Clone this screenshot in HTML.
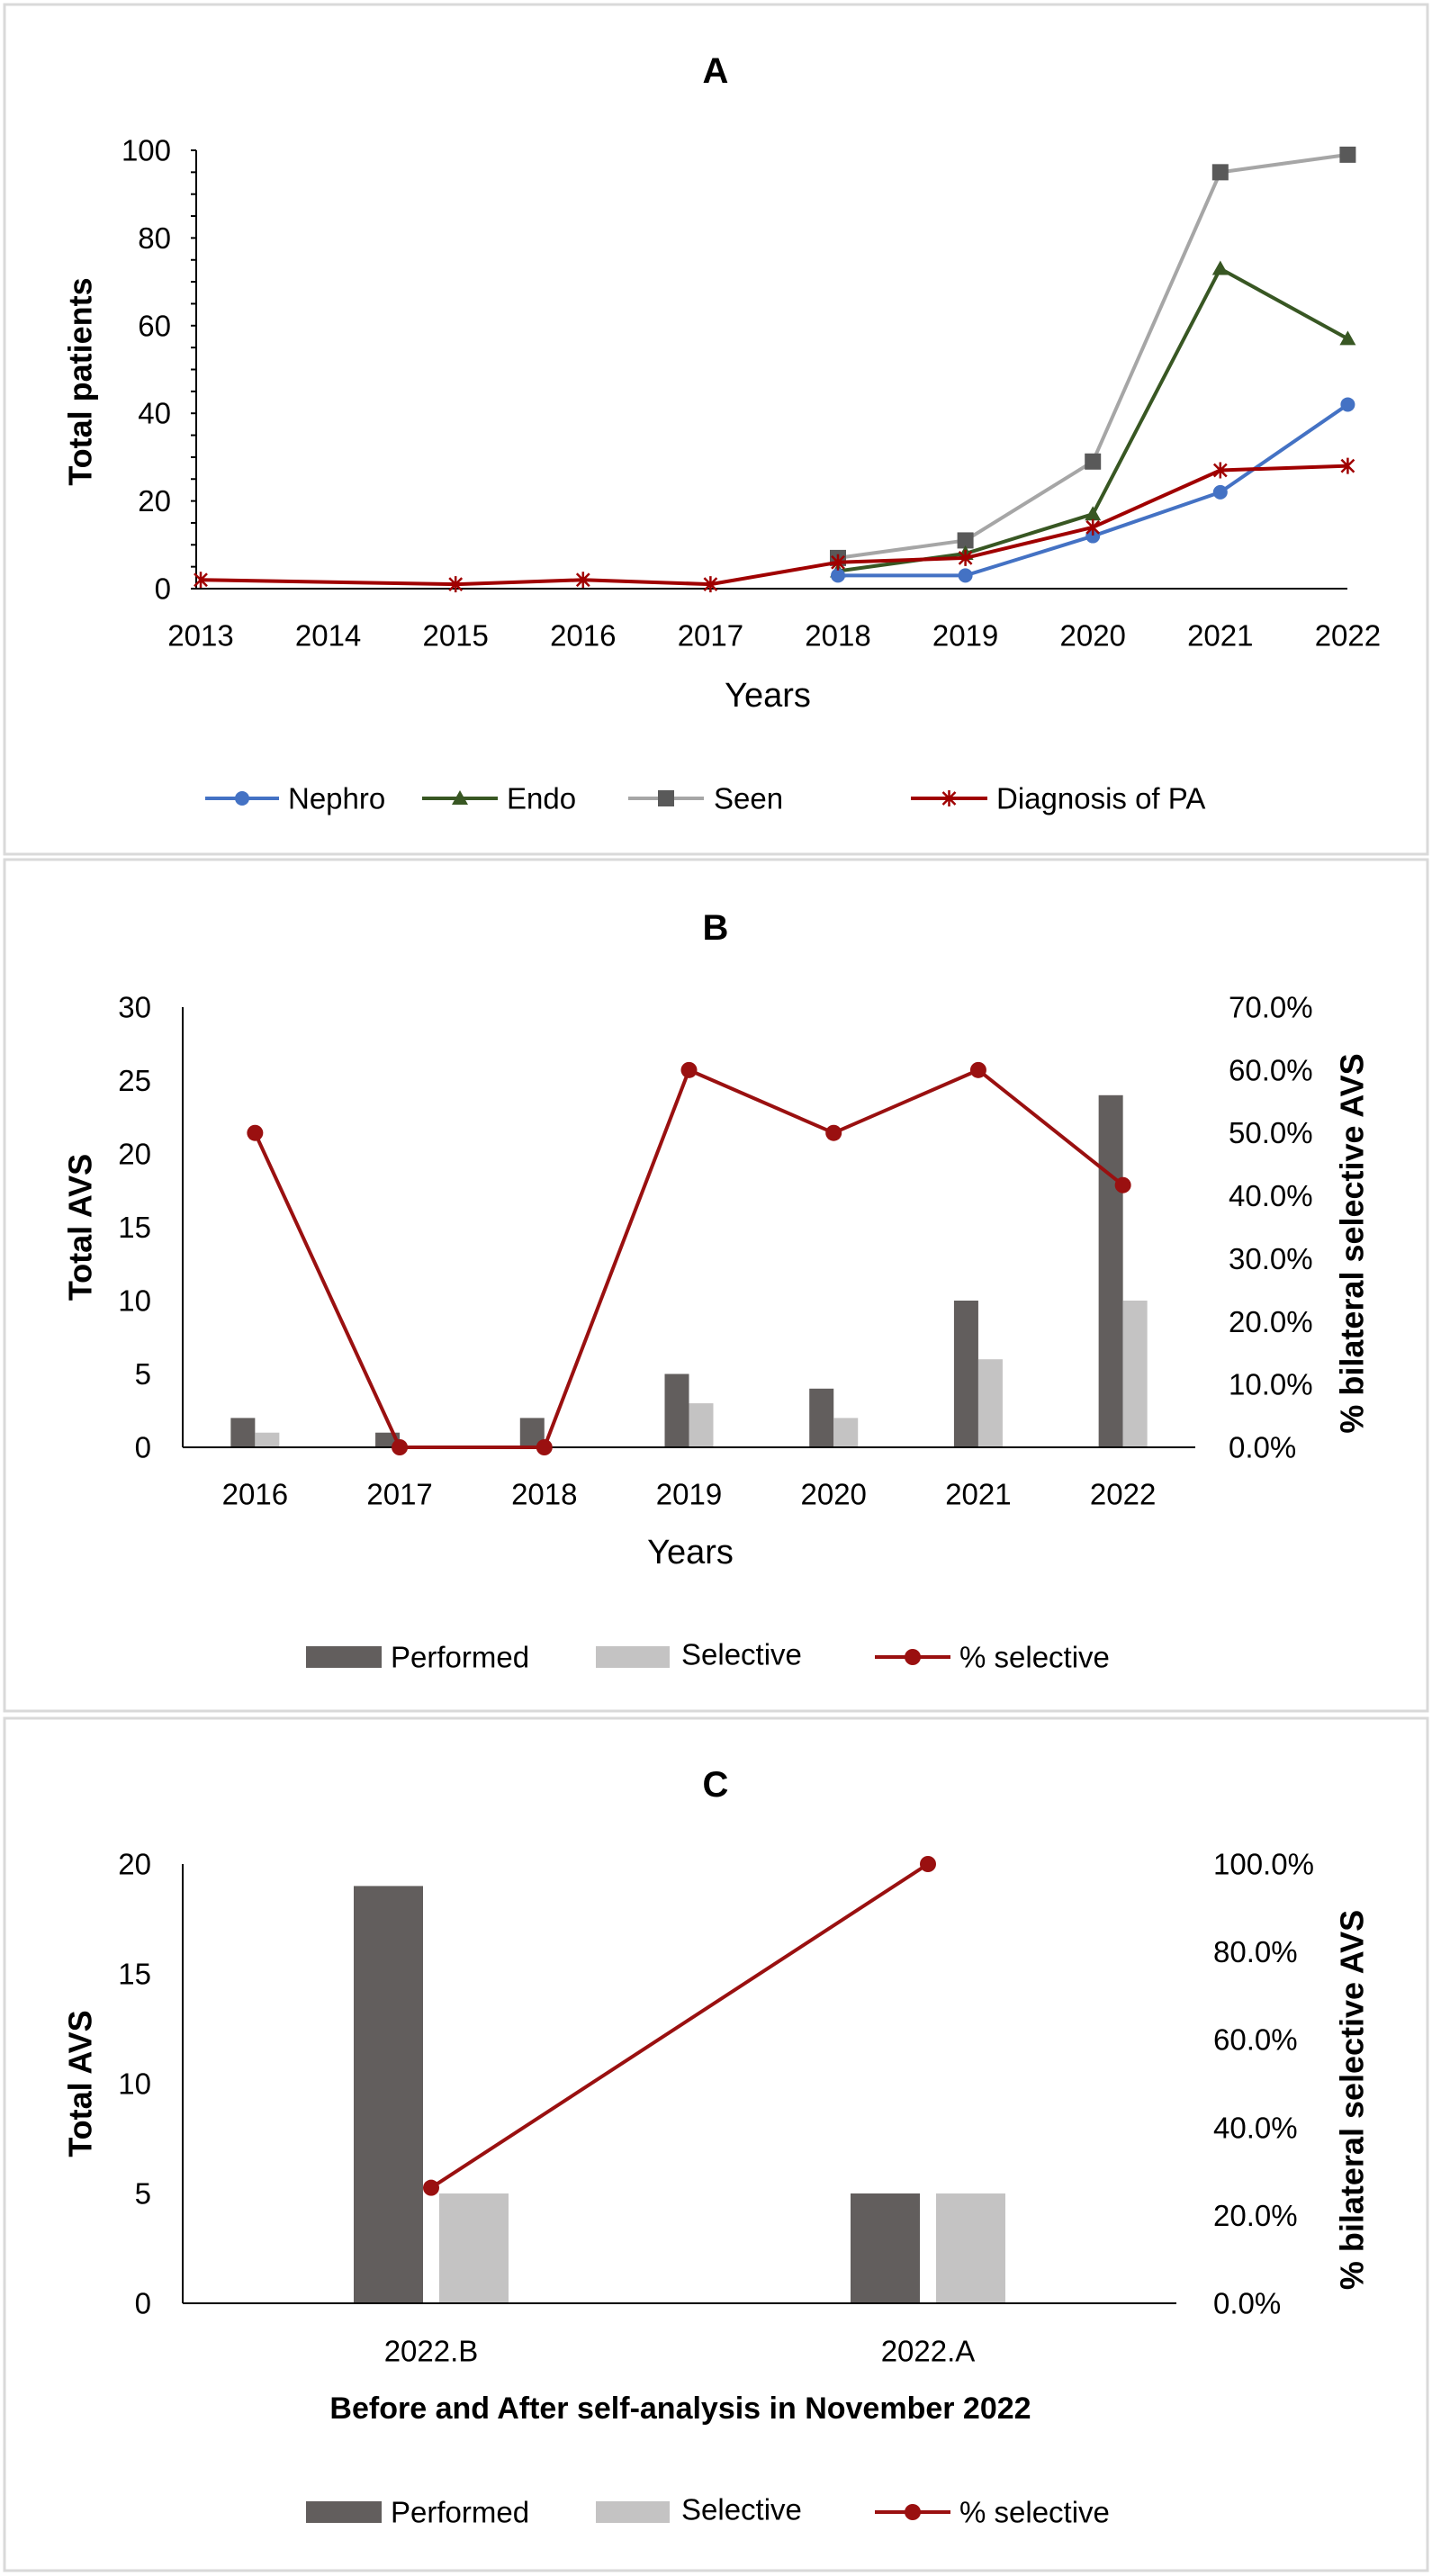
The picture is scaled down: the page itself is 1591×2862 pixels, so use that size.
<!DOCTYPE html>
<html><head><meta charset="utf-8"><style>
html,body{margin:0;padding:0;background:#fff}
svg{display:block;font-family:"Liberation Sans",sans-serif}
</style></head><body>
<svg id="s" width="1591" height="2862" viewBox="0 0 1591 2862" xmlns="http://www.w3.org/2000/svg">
<rect x="5" y="5" width="1581" height="944" fill="#fff" stroke="#d9d9d9" stroke-width="3"/>
<rect x="5" y="955" width="1581" height="946" fill="#fff" stroke="#d9d9d9" stroke-width="3"/>
<rect x="5" y="1909" width="1581" height="947" fill="#fff" stroke="#d9d9d9" stroke-width="3"/>
</svg>
<script>
// Panel A data
const yearsA=[2013,2014,2015,2016,2017,2018,2019,2020,2021,2022];
const nephro=[null,null,null,null,null,3,3,12,22,42];
const endo=[null,null,null,null,null,4,8,17,73,57];
const seen=[null,null,null,null,null,7,11,29,95,99];
const diagPA=[2,null,1,2,1,6,7,14,27,28];
const ticksA=[0,20,40,60,80,100];
// Panel B data
const yearsB=[2016,2017,2018,2019,2020,2021,2022];
const performedB=[2,1,2,5,4,10,24];
const selectiveB=[1,0,0,3,2,6,10];
const pctB=[50,0,0,60,50,60,41.7];
const ticksB=[0,5,10,15,20,25,30];
const ticksBR=[0,10,20,30,40,50,60,70];
// Panel C data
const catsC=["2022.B","2022.A"];
const performedC=[19,5];
const selectiveC=[5,5];
const pctC=[26.3,100];
const ticksC=[0,5,10,15,20];
const ticksCR=[0,20,40,60,80,100];

const FS=33;
const S=document.getElementById('s');const NS='http://www.w3.org/2000/svg';
function el(t,a,txt){const e=document.createElementNS(NS,t);for(const k in a)e.setAttribute(k,a[k]);if(txt!==undefined)e.textContent=txt;S.appendChild(e);return e;}
function text(x,y,s,sz,anchor,extra){const e=el('text',Object.assign({x:x,y:y,'font-size':sz,'text-anchor':anchor||'middle','dominant-baseline':'central',fill:'#000'},extra||{}),s);return e;}

// ===== Panel A =====
const axA={x0:223,dx:141.6,y0:654,ky:4.87};
const xA=i=>axA.x0+i*axA.dx, yA=v=>axA.y0-v*axA.ky;
let t=text(795,79,'A',40,'middle',{'font-weight':'bold'});


let l=el('line',{x1:218,y1:yA(100),x2:218,y2:yA(0),stroke:'#000','stroke-width':2});

for(let v=0;v<=100;v+=5){const m=el('line',{x1:212,y1:yA(v),x2:218,y2:yA(v),stroke:'#000','stroke-width':2});

}
ticksA.forEach(v=>{const e=text(190,yA(v),String(v),FS,'end');

});
yearsA.forEach((y,i)=>{const e=text(xA(i),706,String(y),FS);

});
l=el('line',{x1:218,y1:yA(0),x2:1497,y2:yA(0),stroke:'#000','stroke-width':2});

t=text(853,773,'Years',38);
t=text(89,424,'Total patients',36,'middle',{'font-weight':'bold',transform:'rotate(-90 89 424)'});


function marker(type,x,y,c,name){let m;
 if(type==='circle')m=el('circle',{cx:x,cy:y,r:8,fill:c});
 else if(type==='tri')m=el('polygon',{points:`${x},${y-9} ${x-9},${y+7} ${x+9},${y+7}`,fill:c});
 else if(type==='sq')m=el('rect',{x:x-9,y:y-9,width:18,height:18,fill:'#595959'});
 else if(type==='star')m=el('path',{d:`M${x-7},${y-7}L${x+7},${y+7}M${x+7},${y-7}L${x-7},${y+7}M${x},${y-9}L${x},${y+9}`,stroke:c,'stroke-width':2.5});
 else if(type==='dot')m=el('circle',{cx:x,cy:y,r:9,fill:c});
 
 return m;}
function series(vals,color,mk,name){const pts=[];vals.forEach((v,i)=>{if(v!==null)pts.push([xA(i),yA(v)]);});
 const p=el('polyline',{points:pts.map(q=>q.join(',')).join(' '),fill:'none',stroke:color,'stroke-width':4,'stroke-linejoin':'round'});
 
 
 pts.forEach(q=>marker(mk,q[0],q[1],color,name+'-point'));}
series(seen,'#a6a6a6','sq','seen');
series(endo,'#385723','tri','endo');
series(nephro,'#4472c4','circle','nephro');
series(diagPA,'#a00000','star','diagnosis-pa');
function legLine(x1,x2,y,color,mk,label,tx,name){const g=el('line',{x1:x1,y1:y,x2:x2,y2:y,stroke:color,'stroke-width':4});
 
 
 marker(mk,(x1+x2)/2,y,color,name+'-legend-marker');
 const e=text(tx,y,label,FS,'start');
 
 }
legLine(228,310,887,'#4472c4','circle','Nephro',320,'nephro');
legLine(469,553,887,'#385723','tri','Endo',563,'endo');
legLine(698,782,887,'#a6a6a6','sq','Seen',793,'seen');
legLine(1012,1097,887,'#a00000','star','Diagnosis of PA',1107,'diagnosis-pa');

// ===== Combo panels =====
function combo(o){
 const yL=v=>o.y0-v*(o.y0-o.yTop)/o.lmax, yR=v=>o.y0-v*(o.y0-o.yTop)/o.rmax;
 const step=(o.xR-o.xL)/o.cats.length, cx=i=>o.xL+step*(i+0.5);
 let e=text(795,o.titleY,o.title,40,'middle',{'font-weight':'bold'});
 
 e=el('line',{x1:o.xL,y1:o.yTop,x2:o.xL,y2:o.y0,stroke:'#000','stroke-width':2});
 
 o.lt.forEach(v=>{const q=text(168,yL(v),String(v),FS,'end');
  
  });
 o.rt.forEach(v=>{const q=text(o.rx,yR(v),v.toFixed(1)+'%',FS,'start');
  
  });
 o.cats.forEach((c,i)=>{
  const r1=el('rect',{x:cx(i)-o.off-o.bw,y:yL(o.perf[i]),width:o.bw,height:o.perf[i]*(o.y0-o.yTop)/o.lmax,fill:'#625e5d'});
  
  
  const r2=el('rect',{x:cx(i)+o.off,y:yL(o.sel[i]),width:o.bw,height:o.sel[i]*(o.y0-o.yTop)/o.lmax,fill:'#c4c3c3'});
  
  
  const q=text(cx(i),o.catY,String(c),FS);
  
  });
 e=el('line',{x1:o.xL,y1:o.y0,x2:o.xR,y2:o.y0,stroke:'#000','stroke-width':2});
 
 const pl=el('polyline',{points:o.pct.map((v,i)=>cx(i)+','+yR(v)).join(' '),fill:'none',stroke:'#9a1010','stroke-width':4,'stroke-linejoin':'round'});
 
 
 o.pct.forEach((v,i)=>marker('dot',cx(i),yR(v),'#9a1010',o.p+'-pct-point'));
 e=text(o.xtX,o.xtY,o.xt,o.xtSize,'middle',o.xtBold?{'font-weight':'bold'}:{});
 
 const my=(o.y0+o.yTop)/2;
 e=text(89,my,'Total AVS',36,'middle',{'font-weight':'bold',transform:`rotate(-90 89 ${my})`});
 
 e=text(1502,my+18,'% bilateral selective AVS',36,'middle',{'font-weight':'bold',transform:`rotate(-90 1502 ${my+18})`});
 
 const ly=o.legY;
 e=el('rect',{x:340,y:ly-12,width:84,height:24,fill:'#625e5d'});
 
 e=text(434,ly,'Performed',FS,'start');
 
 e=el('rect',{x:662,y:ly-12,width:82,height:24,fill:'#c4c3c3'});
 
 e=text(757,ly-3,'Selective',FS,'start');
 
 e=el('line',{x1:972,y1:ly,x2:1056,y2:ly,stroke:'#9a1010','stroke-width':4});
 
 marker('dot',1014,ly,'#9a1010',o.p+'-legend-pct-marker');
 e=text(1066,ly,'% selective',FS,'start');
 
}
combo({p:'panel-b',title:'B',titleY:1031,cats:yearsB,perf:performedB,sel:selectiveB,pct:pctB,lt:ticksB,rt:ticksBR,lmax:30,rmax:70,
 y0:1608,yTop:1119,xL:203,xR:1328,bw:27,off:0,catY:1660,rx:1365,xt:'Years',xtX:767,xtY:1725,xtSize:38,xtBold:false,legY:1841});
combo({p:'panel-c',title:'C',titleY:1983,cats:catsC,perf:performedC,sel:selectiveC,pct:pctC,lt:ticksC,rt:ticksCR,lmax:20,rmax:100,
 y0:2559,yTop:2071,xL:203,xR:1307,bw:77,off:9,catY:2612,rx:1348,xt:'Before and After self-analysis in November 2022',xtX:756,xtY:2676,xtSize:34,xtBold:true,legY:2791});
</script>
</body></html>
